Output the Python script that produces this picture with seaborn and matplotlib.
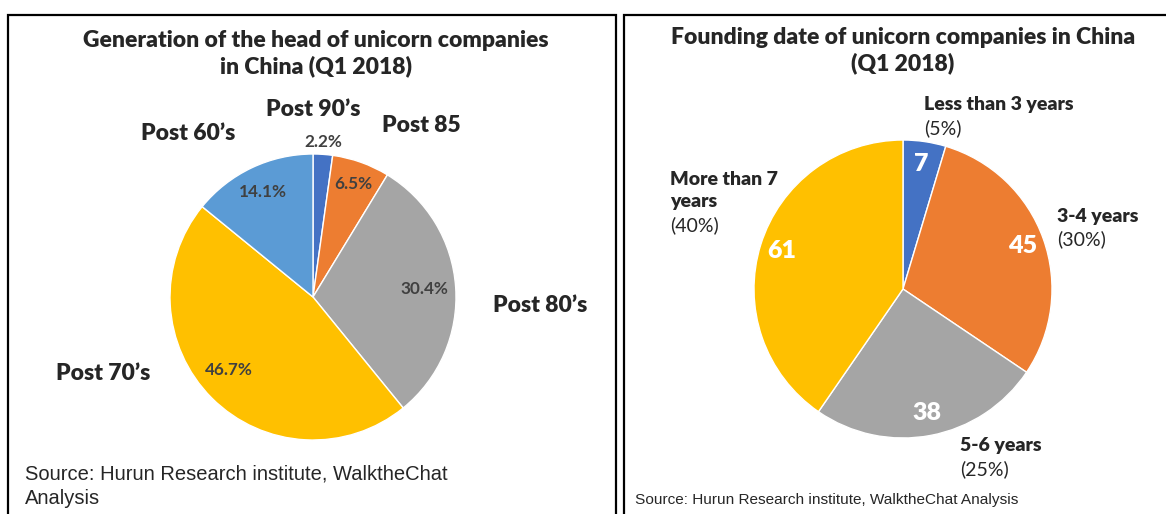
import matplotlib
matplotlib.use("Agg")
import numpy as np
import matplotlib.pyplot as plt
from matplotlib.patches import Rectangle
import seaborn as sns

# Data
gen_labels = ["Post 90’s", "Post 85", "Post 80’s", "Post 70’s", "Post 60’s"]
gen_share = [2.2, 6.5, 30.4, 46.7, 14.1]
gen_colors = ["#4472C4", "#ED7D31", "#A5A5A5", "#FFC000", "#5B9BD5"]

age_labels = ["Less than 3 years", "3-4 years", "5-6 years", "More than 7\nyears"]
age_counts = [7, 45, 38, 61]
age_pct = ["(5%)", "(30%)", "(25%)", "(40%)"]
age_colors = ["#4472C4", "#ED7D31", "#A5A5A5", "#FFC000"]

sns.set_theme(style="white")
plt.rcParams["font.family"] = ["Lato", "DejaVu Sans"]

W, H = 1166, 514
fig = plt.figure(figsize=(W / 100, H / 100), dpi=100)
fig.patch.set_facecolor("white")


def fx(px):
    return px / W


def fy(py):
    return 1 - py / H


def fix_axes(ax):
    ax.set_xlim(-1, 1)
    ax.set_ylim(-1, 1)
    ax.set_aspect("equal")
    ax.axis("off")


def pie_axes(cx, cy, r):
    return fig.add_axes([fx(cx - r), fy(cy + r), 2 * r / W, 2 * r / H])


# panel frames
for x0, x1 in [(8, 616), (624, 1170)]:
    fig.patches.append(Rectangle((fx(x0), fy(520)), fx(x1) - fx(x0), fy(15) - fy(520),
                                 transform=fig.transFigure, fill=False,
                                 edgecolor="black", linewidth=1.6))

# ---- Left chart
ax1 = pie_axes(313, 297, 143)
ax1.pie(gen_share, colors=gen_colors, startangle=90, counterclock=False, radius=1,
        wedgeprops=dict(edgecolor="white", linewidth=1))
fix_axes(ax1)
dists = [1.09, 0.84, 0.78, 0.78, 0.81]
shift = [0, 0, 0, -4, 0]  # small angular nudges (deg) for label placement
start = 90.0
total = sum(gen_share)
for val, d, s in zip(gen_share, dists, shift):
    mid = np.deg2rad(start - val / total * 180 + s)
    start -= val / total * 360
    ax1.text(d * np.cos(mid), d * np.sin(mid), f"{val}%", ha="center", va="center",
             fontsize=12.3, fontweight="bold", color="#404040")

fig.text(fx(316), fy(54), "Generation of the head of unicorn companies\nin China (Q1 2018)",
         ha="center", va="center", fontsize=16.5, fontweight="heavy", linespacing=1.25)
gen_pos = [(313, 110), (421, 126), (540, 305), (103, 374), (188, 133)]
for lab, (px, py) in zip(gen_labels, gen_pos):
    fig.text(fx(px), fy(py), lab, ha="center", va="center", fontsize=16.5, fontweight="heavy")

fig.text(fx(25), fy(486), "Source: Hurun Research institute, WalktheChat\nAnalysis",
         ha="left", va="center", fontsize=14.5, family="Liberation Sans", linespacing=1.35)

# ---- Right chart
ax2 = pie_axes(903, 289, 149)
total2 = sum(age_counts)
ax2.pie(age_counts, colors=age_colors, startangle=90, counterclock=False, radius=1,
        autopct=lambda p: f"{round(p * total2 / 100)}", pctdistance=0.85,
        wedgeprops=dict(edgecolor="white", linewidth=1),
        textprops=dict(color="white", fontsize=18, fontweight="heavy"))
fix_axes(ax2)

fig.text(fx(903), fy(51), "Founding date of unicorn companies in China\n(Q1 2018)",
         ha="center", va="center", fontsize=16.5, fontweight="heavy", linespacing=1.25)

age_pos = [(924, 105), (1057, 216), (960, 446), (670, 190.5)]
for lab, pct, (px, py) in zip(age_labels, age_pct, age_pos):
    fig.text(fx(px), fy(py), lab, ha="left", va="center", fontsize=14, fontweight="heavy",
             linespacing=1.3)
    nlines = lab.count("\n") + 1
    off = 23 if nlines == 1 else 34.5
    fig.text(fx(px), fy(py + off), pct, ha="left", va="center", fontsize=14)

fig.text(fx(635), fy(500), "Source: Hurun Research institute, WalktheChat Analysis",
         ha="left", va="center", fontsize=11.1, family="Liberation Sans")

fig.savefig("out.png", dpi=100, facecolor="white")
